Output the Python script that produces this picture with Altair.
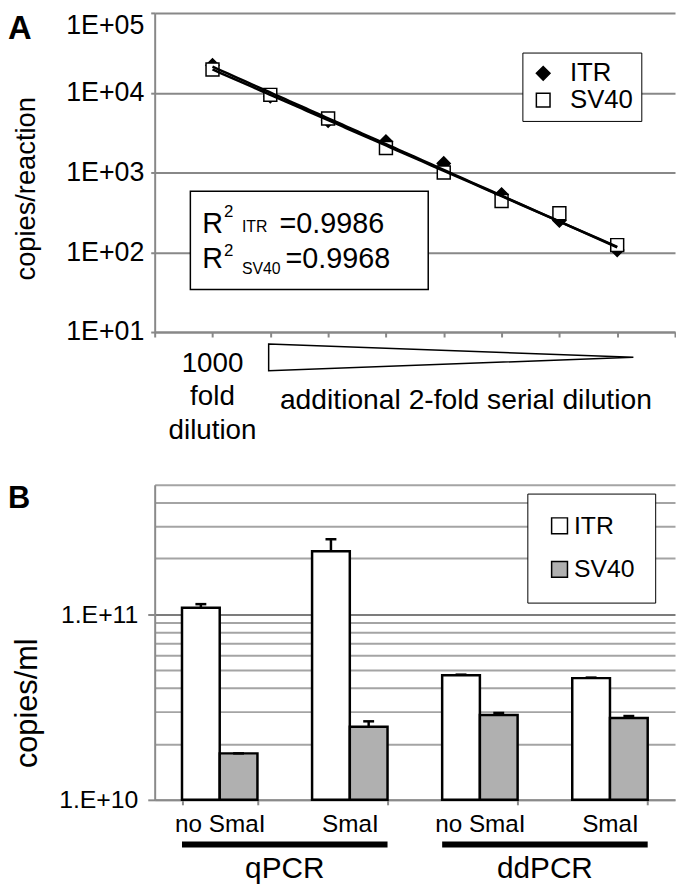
import altair as alt
import pandas as pd

FONT = "Liberation Sans"

# ---------------- Panel A values ----------------
dilution_step = [1, 2, 3, 4, 5, 6, 7, 8]
itr_copies = [22000, 9000, 4450, 2450, 1300, 530, 250, 107]
sv40_copies = [19500, 9400, 4750, 2030, 1000, 440, 308, 123]
series_names = ["ITR", "SV40"]
a_tick_values = [10, 100, 1000, 10000, 100000]
a_tick_labels = ["1E+01", "1E+02", "1E+03", "1E+04", "1E+05"]
r2_itr = "=0.9986"
r2_sv40 = "=0.9968"

# ---------------- Panel B values ----------------
b_methods = ["qPCR", "qPCR", "ddPCR", "ddPCR"]
b_digests = ["no SmaI", "SmaI", "no SmaI", "SmaI"]
itr_per_ml = [1.086e11, 2.19e11, 4.70e10, 4.53e10]
itr_err_top = [1.135e11, 2.54e11, 4.73e10, 4.56e10]
sv40_per_ml = [1.78e10, 2.48e10, 2.87e10, 2.76e10]
sv40_err_top = [1.78e10, 2.65e10, 2.94e10, 2.83e10]
b_tick_values = [k * 10**10 for k in range(1, 10)] + [k * 10**11 for k in range(1, 6)]
b_major_values = [10**10, 10**11]
b_major_labels = ["1.E+10", "1.E+11"]

GRID_A = "#888888"
GRID_B = "#a4a4a4"
MAJOR_B = "#7c7c7c"
AX_B = "#8a8a8a"


def label_expr(values, labels):
    s = "''"
    for v, l in reversed(list(zip(values, labels))):
        s = f"datum.value == {v} ? '{l}' : ({s})"
    return s


one = alt.Data(values=[{"k": 1}])

# ================= Panel A =================
WA, HA = 525, 322
dfA = pd.DataFrame({
    "step": dilution_step * 2,
    "copies": itr_copies + sv40_copies,
    "series": ["ITR"] * len(itr_copies) + ["SV40"] * len(sv40_copies),
})

xA_scale = alt.Scale(domain=[0, 9], nice=False, zero=False)
xA = alt.X("step:Q", scale=xA_scale,
           axis=alt.Axis(values=list(range(10)), labels=False, grid=False, tickSize=5,
                         tickWidth=2, tickColor=GRID_A, domainColor=GRID_A, domainWidth=2,
                         title=None))
yA_scale = alt.Scale(type="log", domain=[10, 100000], nice=False)
yA = alt.Y("copies:Q", scale=yA_scale,
           axis=alt.Axis(values=a_tick_values, labelExpr=label_expr(a_tick_values, a_tick_labels),
                         grid=True, gridColor=GRID_A, gridWidth=2, tickSize=4, tickWidth=2,
                         tickColor=GRID_A, domainColor=GRID_A, domainWidth=2,
                         labelFontSize=27, labelPadding=7,
                         labelBaseline={"condition": {"test": "datum.value == 100000", "value": "top"},
                                        "value": "middle"},
                         title="copies/reaction", titleFontSize=27.5, titleFontWeight="normal",
                         titleX=-121, titleY=177, titleBaseline="alphabetic", titleAlign="center",
                         titleAngle=270))

legA = alt.Legend(title=None, orient="none", legendX=371, legendY=40, labelFontSize=26,
                  symbolSize=190, symbolStrokeColor="black", symbolStrokeWidth=1.5,
                  padding=8, rowPadding=1, labelOffset=14, fillColor="white",
                  strokeColor="black")

r2_box = alt.Chart(one).mark_rect(fill="white", stroke="black", strokeWidth=1.5).encode(
    x=alt.value(36), x2=alt.value(276), y=alt.value(180), y2=alt.value(279))

points = alt.Chart(dfA).mark_point(filled=True, strokeWidth=1.5, size=170, opacity=1).encode(
    x=xA, y=yA,
    shape=alt.Shape("series:N", scale=alt.Scale(domain=series_names, range=["diamond", "square"]),
                    legend=legA),
    fill=alt.Fill("series:N", scale=alt.Scale(domain=series_names, range=["black", "white"]),
                  legend=legA),
    stroke=alt.Stroke("series:N", scale=alt.Scale(domain=series_names, range=["black", "black"]),
                      legend=legA),
)

trend = alt.Chart(dfA).transform_regression(
    "step", "copies", method="exp", groupby=["series"]
).mark_line(color="black", strokeWidth=2.5).encode(x=xA, y=yA, detail="series:N")


def txt(text, x, y, size, align="left", weight="normal", baseline="alphabetic"):
    return alt.Chart(one).mark_text(text=text, fontSize=size, align=align, fontWeight=weight,
                                    baseline=baseline, color="black").encode(
        x=alt.value(x), y=alt.value(y))


r2_texts = [
    txt("R", 48, 222, 29), txt("2", 70, 206, 17), txt("ITR", 88, 221, 16), txt(r2_itr, 126, 222, 29),
    txt("R", 48, 257, 29), txt("2", 70, 245, 17), txt("SV40", 88, 263, 16), txt(r2_sv40, 132, 257, 29),
]

triangle = alt.Chart(one).mark_point(
    shape="M -1 -0.073 L 1 0 L -1 0.073 Z", size=368 * 368, filled=True, fill="white",
    stroke="black", strokeWidth=1.5, opacity=1).encode(x=alt.value(299), y=alt.value(347.5))

fold_text = alt.Chart(one).mark_text(text=["1000", "fold", "dilution"], fontSize=28,
                                     lineHeight=34, align="center", baseline="alphabetic",
                                     color="black").encode(
    x=alt.XDatum(datum=1, type="quantitative", scale=xA_scale), y=alt.value(362))
serial_text = txt("additional 2-fold serial dilution", 314, 400, 28.5, align="center")
label_A = txt("A", -148, 26, 33, weight="bold")

panelA = alt.layer(r2_box, points, trend, *r2_texts, triangle, fold_text, serial_text,
                   label_A).properties(width=WA, height=HA)

# ================= Panel B =================
WB, HB = 525, 318
PAD_IN, PAD_OUT = 0.42, 0.21
cats = [f"{m}|{d}" for m, d in zip(b_methods, b_digests)]
dfB = pd.DataFrame({
    "cat": cats * 2,
    "series": ["ITR"] * 4 + ["SV40"] * 4,
    "value": itr_per_ml + sv40_per_ml,
    "err": itr_err_top + sv40_err_top,
})
groups = pd.DataFrame({
    "method": ["qPCR", "ddPCR"],
    "first": [cats[0], cats[2]],
    "last": [cats[1], cats[3]],
})

step_B = WB / (len(cats) - PAD_IN + 2 * PAD_OUT)
xB_scale = alt.Scale(domain=cats, paddingInner=PAD_IN, paddingOuter=PAD_OUT)
xB_axis = alt.Axis(title=None, labelExpr="split(datum.value, '|')[1]", labelAngle=0,
                   labelFontSize=24.5, labelPadding=8, tickBand="extent", tickSize=5, tickWidth=2,
                   tickColor=AX_B, domainColor=AX_B, domainWidth=2, grid=False)
xB = alt.X("cat:N", scale=xB_scale, axis=xB_axis)
xoffB = alt.XOffset("series:N", scale=alt.Scale(domain=series_names, paddingInner=0,
                                                 paddingOuter=0))
yB_scale = alt.Scale(type="log", domain=[10**10, 5 * 10**11], nice=False)
major_test = " || ".join(f"datum.value == {v}" for v in b_major_values)
yB_axis = alt.Axis(values=b_tick_values, labelExpr=label_expr(b_major_values, b_major_labels),
                   grid=True, gridWidth=2,
                   gridColor={"condition": {"test": f"datum.value == {10**11}", "value": MAJOR_B},
                              "value": GRID_B},
                   tickSize=7, tickWidth=2, tickColor=AX_B,
                   tickOpacity={"condition": {"test": major_test, "value": 1}, "value": 0},
                   domainColor=AX_B, domainWidth=2, labelFontSize=25, labelPadding=10,
                   title="copies/ml", titleFontSize=31, titleFontWeight="normal",
                   titleX=-119, titleY=220, titleBaseline="alphabetic", titleAlign="center",
                   titleAngle=270)
yB = alt.Y("value:Q", scale=yB_scale, axis=yB_axis)

legB = alt.Legend(title=None, orient="none", legendX=376, legendY=9, labelFontSize=25,
                  symbolType="square", symbolSize=256, symbolStrokeColor="black",
                  symbolStrokeWidth=1.5, padding=20, rowPadding=18, labelOffset=2,
                  fillColor="white", strokeColor="black")

bars = alt.Chart(dfB).mark_bar(stroke="black", strokeWidth=2.5).encode(
    x=xB, xOffset=xoffB, y=yB, y2=alt.Y2Datum(datum=10**10),
    fill=alt.Fill("series:N", scale=alt.Scale(domain=series_names, range=["white", "#b0b0b0"]),
                  legend=legB),
)
err_rule = alt.Chart(dfB).mark_rule(color="black", strokeWidth=2.5).encode(
    x=xB, xOffset=xoffB, y=yB, y2="err:Q")
err_cap = alt.Chart(dfB).mark_tick(color="black", orient="horizontal", size=11, thickness=2.5,
                                   opacity=1).encode(
    x=xB, xOffset=xoffB, y=alt.Y("err:Q", scale=yB_scale, axis=yB_axis))

grp_rule = alt.Chart(groups).mark_rule(color="black", strokeWidth=6, strokeCap="butt").encode(
    x=alt.X("first:N", scale=xB_scale, axis=xB_axis, bandPosition=0),
    x2=alt.X2("last:N", bandPosition=1),
    y=alt.value(363))
grp_text = alt.Chart(groups).mark_text(fontSize=30, baseline="alphabetic", align="center",
                                       color="black", dx=-PAD_IN * step_B / 2).encode(
    x=alt.X("last:N", scale=xB_scale, axis=xB_axis, bandPosition=0),
    y=alt.value(397), text="method:N")
label_B = txt("B", -148, 24, 31, weight="bold")

panelB = alt.layer(bars, err_rule, err_cap, grp_rule, grp_text, label_B).properties(
    width=WB, height=HB)

chart = alt.vconcat(panelA, panelB, spacing=39).resolve_scale(
    x="independent", y="independent", fill="independent", shape="independent",
    stroke="independent"
).resolve_legend(fill="independent", shape="independent", stroke="independent").properties(
    padding=0
).configure(font=FONT).configure_view(stroke=None).configure_axis(
    labelColor="black", titleColor="black", labelFont=FONT, titleFont=FONT)

chart.save("out.html", embed_options={"renderer": "svg", "actions": False})
